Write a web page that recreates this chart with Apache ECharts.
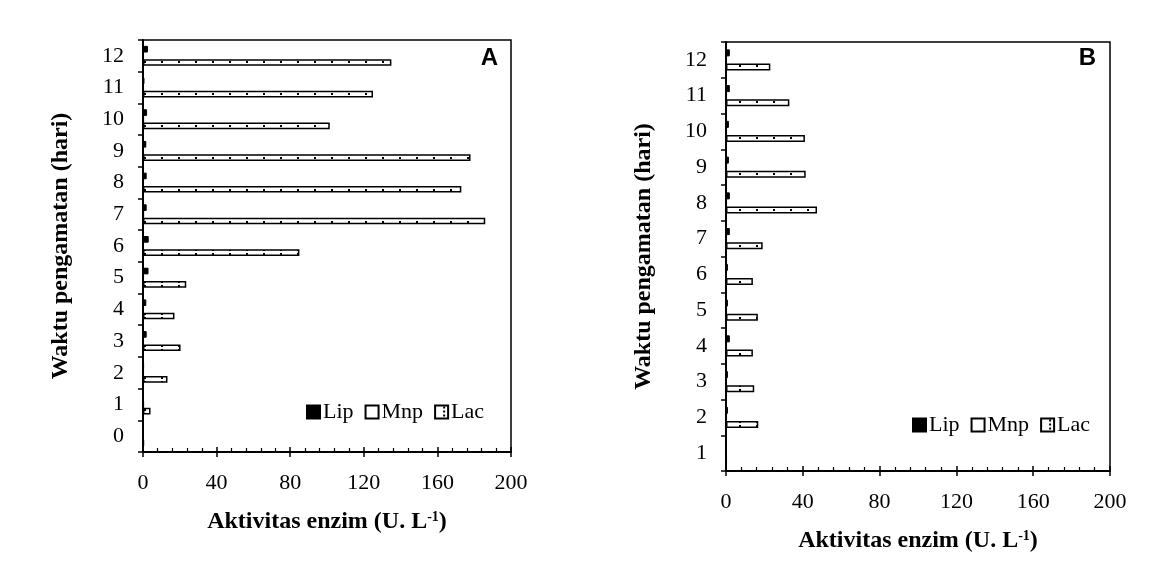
<!DOCTYPE html>
<html>
<head>
<meta charset="utf-8">
<script src="https://cdn.jsdelivr.net/npm/echarts@6/dist/echarts.min.js"></script>
<style>
  html, body { margin: 0; padding: 0; background: #fff; }
  #chart { width: 1162px; height: 582px; }
</style>
</head>
<body>
<div id="chart"></div>
<script>
const daysA = ["0", "1", "2", "3", "4", "5", "6", "7", "8", "9", "10", "11", "12"];
const lipA = [0.3, 0.4, 0.6, 2.0, 1.8, 3.0, 3.1, 2.0, 2.0, 1.8, 2.2, 0.8, 2.7];
const mnpA = [0.2, 0.4, 0.3, 0.3, 0.2, 0.3, 0.3, 0.4, 0.3, 0.3, 0.4, 0.3, 0.3];
const lacA = [0.5, 4.1, 13.3, 20.4, 17.1, 23.5, 85, 186, 173, 178, 101.5, 125, 135];

const daysB = ["1", "2", "3", "4", "5", "6", "7", "8", "9", "10", "11", "12"];
const lipB = [0.3, 1.0, 1.0, 2.0, 1.0, 1.0, 2.0, 2.0, 1.5, 1.5, 2.0, 2.0];
const mnpB = [0.2, 0.3, 0.3, 0.3, 0.3, 0.2, 0.3, 0.3, 0.3, 0.3, 0.3, 0.3];
const lacB = [0.3, 16.8, 14.7, 14.0, 16.6, 14.0, 19.1, 47.4, 41.5, 41.1, 33.0, 23.1];

const xTicks = { min: 0, max: 200, interval: 40 };

// dotted fill for the Lac bars
function dotPattern() {
    const c = document.createElement("canvas");
    c.width = 17;
    c.height = 4;
    const ctx = c.getContext("2d");
    ctx.fillStyle = "#fff";
    ctx.fillRect(0, 0, 17, 4);
    ctx.fillStyle = "#000";
    ctx.fillRect(8, 1, 2, 2);
    return c;
}
const lacFill = { image: dotPattern(), repeat: "repeat" };

const serif = "'Liberation Serif', 'DejaVu Serif', serif";

function grids() {
    return [
        { left: 143, right: 651, top: 40, bottom: 130, show: true, borderColor: "#000", borderWidth: 1.5, backgroundColor: "transparent" },
        { left: 726, right: 52, top: 42, bottom: 111, show: true, borderColor: "#000", borderWidth: 1.5, backgroundColor: "transparent" }
    ];
}

function xAxes() {
    const axes = [];
    [0, 1].forEach(g => {
        axes.push({
            type: "value",
            gridIndex: g,
            position: "bottom",
            min: xTicks.min,
            max: xTicks.max,
            interval: xTicks.interval,
            name: "{t|Aktivitas enzim (U. L}{s|-1}{t|)}",
            nameLocation: "middle",
            nameGap: 58,
            nameTextStyle: {
                rich: {
                    t: { fontFamily: serif, fontWeight: "bold", fontSize: 24, color: "#000" },
                    s: { fontFamily: serif, fontWeight: "bold", fontSize: 14, color: "#000", verticalAlign: "top", padding: [0, 0, 10, 0] }
                }
            },
            axisLine: { show: true, lineStyle: { color: "#000", width: 2 } },
            axisTick: { show: true, inside: false, length: 5, lineStyle: { color: "#000", width: 1.5 } },
            axisLabel: { fontFamily: serif, fontSize: 22, color: "#000", margin: 20 },
            splitLine: { show: false }
        });
        // overlay axis for the inner major + minor ticks
        axes.push({
            type: "value",
            gridIndex: g,
            position: "bottom",
            offset: 0,
            min: xTicks.min,
            max: xTicks.max,
            interval: xTicks.interval,
            axisLine: { show: false },
            axisLabel: { show: false },
            axisTick: { show: true, inside: true, length: 5, lineStyle: { color: "#000", width: 1.5 } },
            minorTick: { show: true, splitNumber: 5, length: 4, lineStyle: { color: "#000", width: 1.2 } },
            splitLine: { show: false }
        });
    });
    return axes;
}

function yAxis(g, cats) {
    return {
        type: "category",
        gridIndex: g,
        data: cats,
        name: "Waktu pengamatan (hari)",
        nameLocation: "middle",
        nameGap: 70,
        nameTextStyle: { fontFamily: serif, fontWeight: "bold", fontSize: 24, color: "#000" },
        axisLine: { show: true, lineStyle: { color: "#000", width: 2 } },
        axisTick: { show: true, inside: false, length: 5, lineStyle: { color: "#000", width: 1.5 } },
        axisLabel: { fontFamily: serif, fontSize: 22, color: "#000", margin: 19 },
        splitLine: { show: false }
    };
}

function barSeries(name, data, g, style, gap) {
    return {
        name: name,
        type: "bar",
        xAxisIndex: g * 2,
        yAxisIndex: g,
        data: data,
        barCategoryGap: gap,
        barGap: "0%",
        itemStyle: style,
        emphasis: { disabled: true }
    };
}

const lipStyle = { color: "#000", borderColor: "#000", borderWidth: 1 };
const mnpStyle = { color: "#fff", borderColor: "#000", borderWidth: 1.5 };
const lacStyle = { color: lacFill, borderColor: "#000", borderWidth: 1.5 };

const legendBase = {
    data: ["Lip", "Mnp", "Lac"],
    itemWidth: 13, itemHeight: 13, itemGap: 11,
    icon: "rect",
    textStyle: { fontFamily: serif, fontSize: 22, color: "#000", padding: [0, 0, 0, -2] }
};

const chart = echarts.init(document.getElementById("chart"), null, { renderer: "canvas" });
chart.setOption({
    backgroundColor: "#fff",
    animation: false,
    grid: grids(),
    xAxis: xAxes(),
    yAxis: [yAxis(0, daysA), yAxis(1, daysB)],
    legend: [
        Object.assign({ left: 301, top: 396 }, legendBase),
        Object.assign({ left: 907, top: 409 }, legendBase)
    ],
    graphic: [
        { type: "text", right: 651 + 13, top: 46, style: { text: "A", font: "bold 24px 'Liberation Sans', Arial, sans-serif", fill: "#000" } },
        { type: "text", right: 52 + 14, top: 46, style: { text: "B", font: "bold 24px 'Liberation Sans', Arial, sans-serif", fill: "#000" } }
    ],
    series: [
        barSeries("Lip", lipA, 0, lipStyle, "37%"),
        barSeries("Mnp", mnpA, 0, mnpStyle, "37%"),
        barSeries("Lac", lacA, 0, lacStyle, "37%"),
        barSeries("Lip", lipB, 1, lipStyle, "41%"),
        barSeries("Mnp", mnpB, 1, mnpStyle, "41%"),
        barSeries("Lac", lacB, 1, lacStyle, "41%")
    ]
});
window.addEventListener("resize", () => chart.resize());
</script>
</body>
</html>
